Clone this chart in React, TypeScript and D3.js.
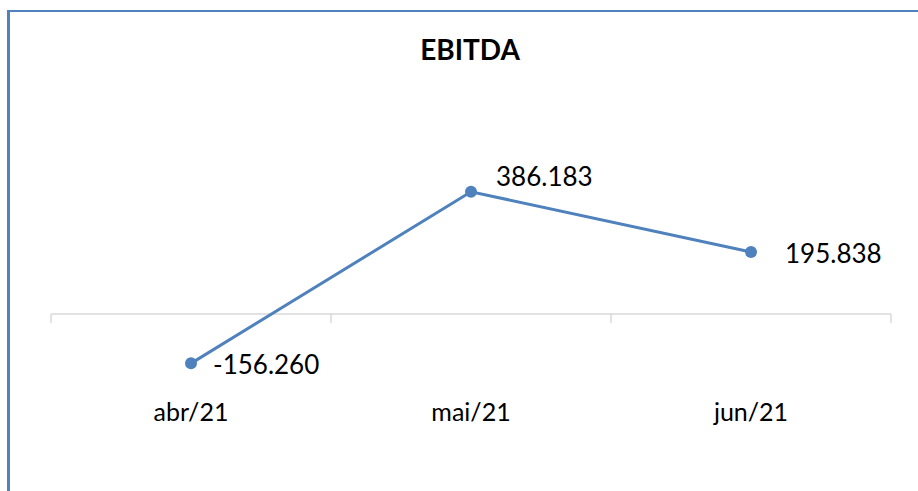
import React from "react";
import * as d3 from "d3";

const categories = ["abr/21", "mai/21", "jun/21"];
const values = [-156.26, 386.183, 195.838];
const valueLabels = ["-156.260", "386.183", "195.838"];
const title = "EBITDA";

const W = 918;
const H = 491;
const FONT = "Lato, 'Open Sans', sans-serif";
const COLOR = "#4f81bd";
// label offsets (dx, dy) relative to point, layout only
const labelOffsets: [number, number][] = [
  [22, 11],
  [25, -6],
  [34, 11],
];

export default function App() {
  const plotLeft = 51;
  const plotRight = 891;
  const x = d3
    .scaleBand<string>()
    .domain(categories)
    .range([plotLeft, plotRight])
    .padding(0);
  const y = d3.scaleLinear().domain([-200, 400]).range([377.2, 187.4]);
  const cx = (c: string) => (x(c) as number) + x.bandwidth() / 2;
  const line = d3
    .line<number>()
    .x((_, i) => cx(categories[i]))
    .y((d) => y(d));
  const y0 = y(0);
  const tickXs = [...categories.map((c) => x(c) as number), plotRight];

  return (
    <svg
      width={W}
      height={H}
      style={{ position: "absolute", left: 0, top: 0, background: "#fff" }}
    >
      <rect x={0} y={0} width={W} height={H} fill="#fff" />
      {/* border */}
      <line x1={8.5} x2={8.5} y1={10} y2={H} stroke={COLOR} strokeWidth={3} />
      <line x1={7} x2={W} y1={11} y2={11} stroke={COLOR} strokeWidth={2} />
      <text
        x={470}
        y={60}
        textAnchor="middle"
        fontFamily={FONT}
        fontWeight="bold"
        fontSize={28}
        fill="#000"
      >
        {title}
      </text>
      {/* axis */}
      <line x1={plotLeft} x2={plotRight} y1={y0} y2={y0} stroke="#d9d9d9" strokeWidth={1.5} />
      {tickXs.map((tx, i) => (
        <line key={i} x1={tx} x2={tx} y1={y0} y2={y0 + 9} stroke="#d9d9d9" strokeWidth={1.5} />
      ))}
      {categories.map((c) => (
        <text
          key={c}
          x={cx(c)}
          y={421}
          textAnchor="middle"
          fontFamily={FONT}
          fontSize={25}
          fill="#000"
        >
          {c}
        </text>
      ))}
      <path d={line(values) || ""} fill="none" stroke={COLOR} strokeWidth={3} />
      {values.map((v, i) => (
        <circle key={i} cx={cx(categories[i])} cy={y(v)} r={6} fill={COLOR} />
      ))}
      {values.map((v, i) => (
        <text
          key={"l" + i}
          x={cx(categories[i]) + labelOffsets[i][0]}
          y={y(v) + labelOffsets[i][1]}
          fontFamily={FONT}
          fontSize={26}
          fill="#000"
        >
          {valueLabels[i]}
        </text>
      ))}
    </svg>
  );
}
